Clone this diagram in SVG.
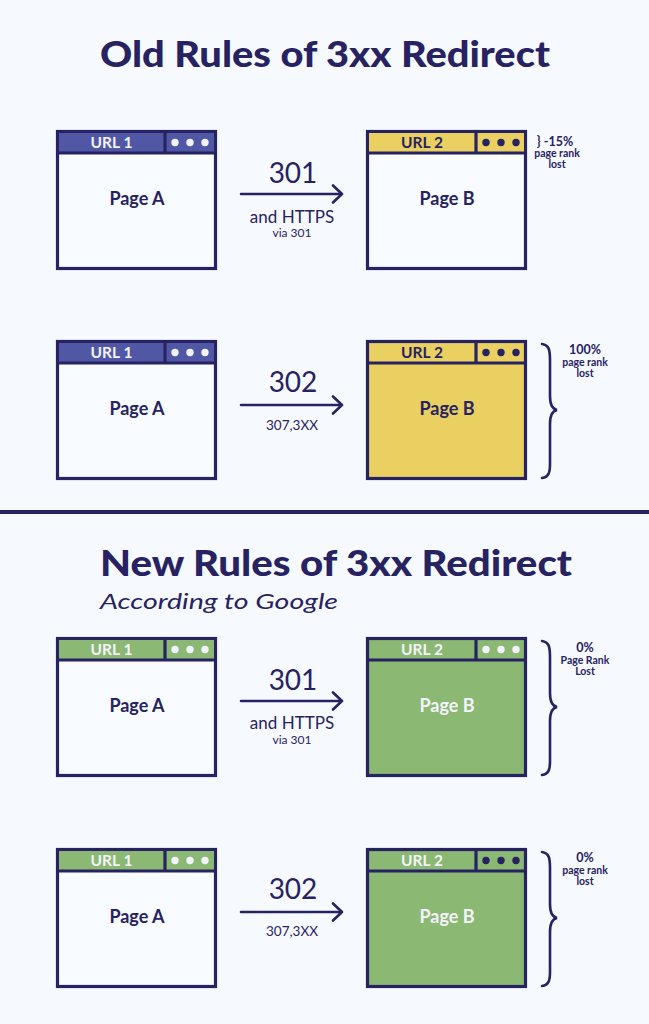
<svg xmlns="http://www.w3.org/2000/svg" width="649" height="1024" viewBox="0 0 649 1024">
<style>
.bg{fill:#f6fafe}
.win{fill:#f8fbff;stroke:#272262;stroke-width:3.2}
.ln{stroke:#272262;stroke-width:3.2;fill:none}
.blue{fill:#5058a6}
.yel{fill:#ead060}
.grn{fill:#8bb872}
.t{font-family:"Lato","Liberation Sans",sans-serif;fill:#272262;text-anchor:middle}
.title{font-size:36px;font-weight:900;text-anchor:start}
.page{font-size:18px;font-weight:700}
.url{font-size:15.5px;font-weight:700}
.wt{fill:#f3f4fb}
.code{font-size:28px;font-weight:400}
.sub{font-size:17px;font-weight:400}
.tiny{font-size:12px;font-weight:400}
.pct{font-size:12.5px;font-weight:700}
.pr{font-size:10.5px;font-weight:700}
.arrow{stroke:#272262;stroke-width:2.6;fill:none;stroke-linecap:round;stroke-linejoin:round}
.brace{stroke:#272262;stroke-width:2.6;fill:none;stroke-linecap:round}
.dw{fill:#f3f4fb}
.dn{fill:#272262}
</style>
<defs>
<g id="arrowShape"><path class="arrow" d="M241,194 H342 M333,185.5 L342,194 L333,202.5"/></g>
</defs>
<rect class="bg" x="0" y="0" width="649" height="1024"/>

<text class="t title" x="100" y="67" textLength="450" lengthAdjust="spacingAndGlyphs">Old Rules of 3xx Redirect</text>
<line x1="0" y1="512" x2="649" y2="512" stroke="#272262" stroke-width="4"/>
<text class="t title" x="100" y="576" textLength="472" lengthAdjust="spacingAndGlyphs">New Rules of 3xx Redirect</text>
<text class="t" x="100" y="609" style="font-size:21px;font-style:italic;text-anchor:start" textLength="238" lengthAdjust="spacingAndGlyphs">According to Google</text>

<!-- Row 1 -->
<g id="r1-pageA">
<rect class="win" x="57.5" y="131.5" width="158" height="137"/>
<rect class="blue" x="59" y="133" width="155" height="19"/>
<line class="ln" x1="57.5" y1="153" x2="215.5" y2="153"/>
<line class="ln" x1="165" y1="131.5" x2="165" y2="153"/>
<circle class="dw" cx="175" cy="142.5" r="3.7"/><circle class="dw" cx="190" cy="142.5" r="3.7"/><circle class="dw" cx="205" cy="142.5" r="3.7"/>
<text class="t url wt" x="111.5" y="148">URL 1</text>
<text class="t page" x="137" y="205">Page A</text>
</g>
<g id="r1-pageB">
<rect class="win" x="367.5" y="131.5" width="158" height="137"/>
<rect class="yel" x="369" y="133" width="155" height="19"/>
<line class="ln" x1="367.5" y1="153" x2="525.5" y2="153"/>
<line class="ln" x1="476" y1="131.5" x2="476" y2="153"/>
<circle class="dn" cx="486" cy="142.5" r="3.7"/><circle class="dn" cx="501" cy="142.5" r="3.7"/><circle class="dn" cx="516" cy="142.5" r="3.7"/>
<text class="t url" x="422" y="148">URL 2</text>
<text class="t page" x="447" y="205">Page B</text>
</g>
<g id="r1-note">
<text class="t pct" x="555" y="145.5">} -15%</text>
<text class="t pr" x="557" y="157">page rank</text>
<text class="t pr" x="557" y="168">lost</text>
</g>

<!-- Row 2 -->
<g id="r2-pageA" transform="translate(0,210)">
<rect class="win" x="57.5" y="131.5" width="158" height="137"/>
<rect class="blue" x="59" y="133" width="155" height="19"/>
<line class="ln" x1="57.5" y1="153" x2="215.5" y2="153"/>
<line class="ln" x1="165" y1="131.5" x2="165" y2="153"/>
<circle class="dw" cx="175" cy="142.5" r="3.7"/><circle class="dw" cx="190" cy="142.5" r="3.7"/><circle class="dw" cx="205" cy="142.5" r="3.7"/>
<text class="t url wt" x="111.5" y="148">URL 1</text>
<text class="t page" x="137" y="205">Page A</text>
</g>
<g id="r2-pageB" transform="translate(0,210)">
<rect class="win yel" x="367.5" y="131.5" width="158" height="137"/>
<line class="ln" x1="367.5" y1="153" x2="525.5" y2="153"/>
<line class="ln" x1="476" y1="131.5" x2="476" y2="153"/>
<circle class="dn" cx="486" cy="142.5" r="3.7"/><circle class="dn" cx="501" cy="142.5" r="3.7"/><circle class="dn" cx="516" cy="142.5" r="3.7"/>
<text class="t url" x="422" y="148">URL 2</text>
<text class="t page" x="447" y="205">Page B</text>
</g>
<g id="r2-note">
<text class="t pct" x="585" y="354">100%</text>
<text class="t pr" x="585" y="366">page rank</text>
<text class="t pr" x="585" y="377">lost</text>
</g>

<!-- Row 3 -->
<g id="r3-pageA" transform="translate(0,507)">
<rect class="win" x="57.5" y="131.5" width="158" height="137"/>
<rect class="grn" x="59" y="133" width="155" height="19"/>
<line class="ln" x1="57.5" y1="153" x2="215.5" y2="153"/>
<line class="ln" x1="165" y1="131.5" x2="165" y2="153"/>
<circle class="dw" cx="175" cy="142.5" r="3.7"/><circle class="dw" cx="190" cy="142.5" r="3.7"/><circle class="dw" cx="205" cy="142.5" r="3.7"/>
<text class="t url wt" x="111.5" y="148">URL 1</text>
<text class="t page" x="137" y="205">Page A</text>
</g>
<g id="r3-pageB" transform="translate(0,507)">
<rect class="win grn" x="367.5" y="131.5" width="158" height="137"/>
<line class="ln" x1="367.5" y1="153" x2="525.5" y2="153"/>
<line class="ln" x1="476" y1="131.5" x2="476" y2="153"/>
<circle class="dw" cx="486" cy="142.5" r="3.7"/><circle class="dw" cx="501" cy="142.5" r="3.7"/><circle class="dw" cx="516" cy="142.5" r="3.7"/>
<text class="t url wt" x="422" y="148">URL 2</text>
<text class="t page wt" x="447" y="205">Page B</text>
</g>
<g id="r3-note">
<text class="t pct" x="585" y="652">0%</text>
<text class="t pr" x="585" y="664">Page Rank</text>
<text class="t pr" x="585" y="675">Lost</text>
</g>

<!-- Row 4 -->
<g id="r4-pageA" transform="translate(0,718)">
<rect class="win" x="57.5" y="131.5" width="158" height="137"/>
<rect class="grn" x="59" y="133" width="155" height="19"/>
<line class="ln" x1="57.5" y1="153" x2="215.5" y2="153"/>
<line class="ln" x1="165" y1="131.5" x2="165" y2="153"/>
<circle class="dw" cx="175" cy="142.5" r="3.7"/><circle class="dw" cx="190" cy="142.5" r="3.7"/><circle class="dw" cx="205" cy="142.5" r="3.7"/>
<text class="t url wt" x="111.5" y="148">URL 1</text>
<text class="t page" x="137" y="205">Page A</text>
</g>
<g id="r4-pageB" transform="translate(0,718)">
<rect class="win grn" x="367.5" y="131.5" width="158" height="137"/>
<line class="ln" x1="367.5" y1="153" x2="525.5" y2="153"/>
<line class="ln" x1="476" y1="131.5" x2="476" y2="153"/>
<circle class="dn" cx="486" cy="142.5" r="3.7"/><circle class="dn" cx="501" cy="142.5" r="3.7"/><circle class="dn" cx="516" cy="142.5" r="3.7"/>
<text class="t url wt" x="422" y="148">URL 2</text>
<text class="t page wt" x="447" y="205">Page B</text>
</g>
<g id="r4-note">
<text class="t pct" x="585" y="862">0%</text>
<text class="t pr" x="585" y="874">page rank</text>
<text class="t pr" x="585" y="885">lost</text>
</g>

<!-- Connectors -->
<g id="connectors">
<use href="#arrowShape"/>
<text class="t code" x="293" y="183">301</text>
<text class="t sub" x="292" y="223">and HTTPS</text>
<text class="t tiny" x="292" y="237">via 301</text>

<use href="#arrowShape" transform="translate(0,211)"/>
<text class="t code" x="293" y="392">302</text>
<text class="t" x="292" y="430" style="font-size:13.5px">307,3XX</text>

<use href="#arrowShape" transform="translate(0,507)"/>
<text class="t code" x="293" y="690">301</text>
<text class="t sub" x="292" y="729">and HTTPS</text>
<text class="t tiny" x="292" y="744">via 301</text>

<use href="#arrowShape" transform="translate(0,718)"/>
<text class="t code" x="293" y="899">302</text>
<text class="t" x="292" y="936" style="font-size:13.5px">307,3XX</text>

<path class="brace" d="M542,344 C549,345 550,350 550,360 L550,396 C550,404 552,409 557,410 C552,411 550,416 550,424 L550,464 C550,472 549,477 542,478"/>
<path class="brace" d="M542,641 C549,642 550,647 550,657 L550,693 C550,701 552,706 557,707 C552,708 550,713 550,721 L550,761 C550,769 549,774 542,775"/>
<path class="brace" d="M542,852 C549,853 550,858 550,868 L550,904 C550,912 552,917 557,918 C552,919 550,924 550,932 L550,972 C550,980 549,985 542,986"/>
</g>
</svg>
